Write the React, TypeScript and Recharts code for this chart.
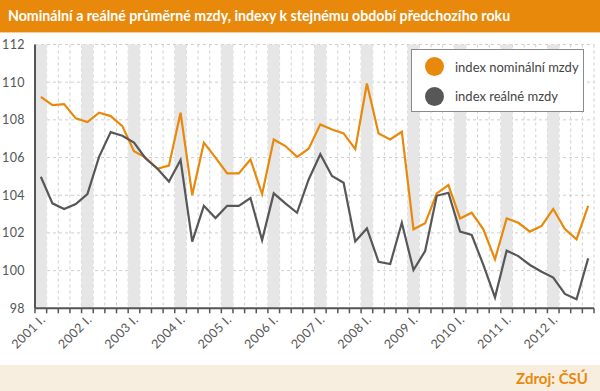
import React from 'react';
import { LineChart, Line, XAxis, YAxis, CartesianGrid, ReferenceArea } from 'recharts';

const years = ['2001', '2002', '2003', '2004', '2005', '2006', '2007', '2008', '2009', '2010', '2011', '2012'];
const quarters = ['I.', 'II.', 'III.', 'IV.'];

const nominal = [
  109.22, 108.78, 108.84, 108.08,
  107.88, 108.38, 108.2, 107.67,
  106.34, 106.0, 105.4, 105.57,
  108.38, 104.01, 106.79, 106.0,
  105.16, 105.16, 105.9, 104.06,
  106.96, 106.61, 106.04, 106.47,
  107.76, 107.49, 107.28, 106.45,
  109.93, 107.28, 106.96, 107.37,
  102.19, 102.51, 104.1, 104.54,
  102.77, 103.07, 102.19, 100.6,
  102.77, 102.54, 102.07, 102.37,
  103.27, 102.21, 101.66, 103.44,
];

const real = [
  104.98, 103.57, 103.27, 103.53,
  104.06, 106.04, 107.35, 107.16,
  106.79, 105.95, 105.42, 104.73,
  105.87, 101.54, 103.44, 102.79,
  103.44, 103.44, 103.85, 101.62,
  104.1, 103.57, 103.07, 104.84,
  106.18, 105.02, 104.66, 101.55,
  102.24, 100.47, 100.35, 102.54,
  100.03, 101.04, 103.97, 104.13,
  102.07, 101.89, 100.3, 98.58,
  101.06, 100.77, 100.3, 99.94,
  99.63, 98.76, 98.48, 100.65,
];

const yTicks = [98, 100, 102, 104, 106, 108, 110, 112];

const seriesNames = ['index nominální mzdy', 'index reálné mzdy'];
const seriesColors = ['#E8890C', '#575757'];

const categories = years.flatMap((y) => quarters.map((q) => `${y} ${q}`));
const data = categories.map((c, i) => ({ x: i + 0.5, label: c, nominal: nominal[i], real: real[i] }));
const xTicks = categories.map((_, i) => i).concat([categories.length]);
const q1Index = categories.map((_, i) => i).filter((i) => i % 4 === 0);

const FONT = 'Lato, "Open Sans", sans-serif';

const XTick = (props: any) => {
  const { x, y, payload } = props;
  const v = payload.value;
  if (v % 4 !== 0 || v >= categories.length) return <g />;
  const tx = x + 11;
  const ty = y + 5;
  return (
    <text
      x={tx}
      y={ty}
      transform={`rotate(-45 ${tx} ${ty})`}
      textAnchor="end"
      fill="#555"
      fontSize={12.5}
      fontFamily={FONT}
      letterSpacing={0.4}
    >
      {categories[v]}
    </text>
  );
};

const LegendBox = () => (
  <div
    style={{
      position: 'absolute',
      left: 411,
      top: 49,
      width: 171,
      height: 61,
      border: '1.5px solid #8a8a8a',
      background: '#fff',
      boxSizing: 'content-box',
      fontFamily: FONT,
      fontSize: 13,
      color: '#444',
    }}
  >
    {seriesNames.map((n, i) => (
      <div key={n} style={{ display: 'flex', alignItems: 'center', height: 29.5, marginTop: i === 0 ? 2 : 0 }}>
        <span
          style={{
            display: 'inline-block',
            width: 19,
            height: 19,
            borderRadius: '50%',
            background: seriesColors[i],
            marginLeft: 13,
            marginRight: 11,
          }}
        />
        <span>{n}</span>
      </div>
    ))}
  </div>
);

export default function App() {
  return (
    <div style={{ position: 'absolute', left: 0, top: 0, width: 600, height: 391, background: '#fff', overflow: 'hidden' }}>
      <div
        style={{
          position: 'absolute',
          left: 0,
          top: 0,
          width: 600,
          height: 33,
          background: '#E8890C',
          borderBottom: '1.5px solid #F4CE96',
          color: '#fff',
          fontFamily: FONT,
          fontWeight: 700,
          fontSize: 14.2,
          lineHeight: '32px',
          paddingLeft: 8,
          boxSizing: 'border-box',
          whiteSpace: 'nowrap',
        }}
      >
        Nominální a reálné průměrné mzdy, indexy k stejnému období předchozího roku
      </div>
      <div style={{ position: 'absolute', left: 0, top: 0 }}>
        <LineChart width={600} height={365} data={data} margin={{ top: 44.5, right: 6, bottom: 0, left: 0 }}>
          {q1Index.map((i) => (
            <ReferenceArea key={i} x1={i} x2={i + 1} y1={98} y2={112} fill="#E6E6E6" fillOpacity={1} stroke="none" ifOverflow="visible" />
          ))}
          <CartesianGrid stroke="#CFCFCF" strokeDasharray="3 3" />
          <XAxis
            type="number"
            dataKey="x"
            domain={[0, categories.length]}
            ticks={xTicks}
            interval={0}
            tickSize={5}
            tickLine={{ stroke: '#555', strokeWidth: 1.5 }}
            axisLine={{ stroke: '#555', strokeWidth: 2 }}
            tick={<XTick />}
            height={56.7}
          />
          <YAxis
            domain={[98, 112]}
            ticks={yTicks}
            interval={0}
            width={35}
            tickLine={false}
            tickMargin={4}
            axisLine={{ stroke: '#555', strokeWidth: 2 }}
            tick={{ fill: '#555', fontSize: 12.5, fontFamily: FONT, letterSpacing: 0.4 }}
          />
          <Line
            type="linear"
            dataKey="nominal"
            name={seriesNames[0]}
            stroke={seriesColors[0]}
            strokeWidth={2.2}
            dot={false}
            isAnimationActive={false}
          />
          <Line
            type="linear"
            dataKey="real"
            name={seriesNames[1]}
            stroke={seriesColors[1]}
            strokeWidth={2.2}
            dot={false}
            isAnimationActive={false}
          />
        </LineChart>
      </div>
      <LegendBox />
      <div
        style={{
          position: 'absolute',
          left: 0,
          top: 365,
          width: 600,
          height: 26,
          background: '#F7EEE0',
          color: '#E8890C',
          fontFamily: FONT,
          fontWeight: 700,
          fontSize: 15,
          lineHeight: '27px',
          textAlign: 'right',
          paddingRight: 12,
          boxSizing: 'border-box',
        }}
      >
        Zdroj: ČSÚ
      </div>
    </div>
  );
}
